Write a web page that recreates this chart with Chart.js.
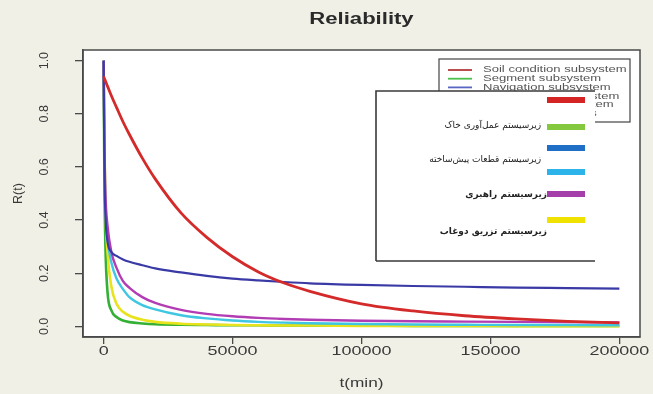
<!DOCTYPE html>
<html>
<head>
<meta charset="utf-8">
<script src="https://cdn.jsdelivr.net/npm/chart.js@4"></script>
<style>
    html, body { margin: 0; padding: 0; background: #f1f0e6; }
    canvas { display: block; }
</style>
</head>
<body>
<canvas id="rel-chart" width="653" height="394"></canvas>
<script>
// Reliability curves R(t)
const times = [0, 300, 700, 1500, 3000, 5000, 7500, 10000, 15000, 20000, 30000, 40000, 50000, 60000, 70000, 80000, 100000, 120000, 140000, 160000, 180000, 200000];

const soilValues = [0.94, 0.933, 0.923, 0.904, 0.868, 0.824, 0.77, 0.722, 0.633, 0.555, 0.427, 0.335, 0.262, 0.205, 0.163, 0.132, 0.085, 0.058, 0.04, 0.028, 0.019, 0.013];
const navigationValues = [1.0, 0.6, 0.42, 0.32, 0.28, 0.265, 0.252, 0.243, 0.23, 0.218, 0.203, 0.19, 0.18, 0.173, 0.167, 0.162, 0.156, 0.152, 0.149, 0.146, 0.144, 0.142];
const purpleValues = [1.0, 0.7, 0.5, 0.38, 0.28, 0.22, 0.17, 0.145, 0.11, 0.088, 0.062, 0.047, 0.038, 0.032, 0.028, 0.025, 0.021, 0.019, 0.018, 0.017, 0.016, 0.015];
const cyanValues = [1.0, 0.65, 0.45, 0.33, 0.24, 0.18, 0.14, 0.11, 0.08, 0.064, 0.042, 0.03, 0.022, 0.017, 0.014, 0.012, 0.009, 0.007, 0.006, 0.005, 0.005, 0.004];
const yellowValues = [1.0, 0.7, 0.45, 0.28, 0.15, 0.085, 0.055, 0.04, 0.025, 0.017, 0.01, 0.007, 0.005, 0.004, 0.003, 0.003, 0.002, 0.002, 0.002, 0.001, 0.001, 0.001];
const segmentValues = [1.0, 0.55, 0.3, 0.13, 0.06, 0.035, 0.022, 0.016, 0.011, 0.008, 0.006, 0.005, 0.004, 0.004, 0.003, 0.003, 0.003, 0.002, 0.002, 0.002, 0.002, 0.002];

const xTicks = [0, 50000, 100000, 150000, 200000];
const yTicks = [0, 0.2, 0.4, 0.6, 0.8, 1.0];
const yTickLabels = ['0.0', '0.2', '0.4', '0.6', '0.8', '1.0'];

const englishLabels = ['Soil condition subsystem', 'Segment subsystem', 'Navigation subsystem', 'Thrust jacks subsystem', 'Cutterhead subsystem', 'Main drive bearings'];
const englishColors = ['#b33a3a', '#4cc04c', '#5866c4', '#3cc8e0', '#b040b0', '#e8e020'];

const persianLabels = ['', 'زیرسیستم عمل\u200cآوری خاک', '', 'زیرسیستم قطعات پیش\u200cساخته', 'زیرسیستم راهبری', 'زیرسیستم تزریق دوغاب'];
const persianColors = ['#d42424', '#84c840', '#1f6fc6', '#2cb4ea', '#a43ea8', '#f0e200'];

const series = [
    { values: soilValues, color: '#d42a2a', width: 2.8 },
    { values: navigationValues, color: '#3a3aa6', width: 2.2 },
    { values: purpleValues, color: '#b23cb4', width: 2.4 },
    { values: cyanValues, color: '#3ec6e2', width: 2.4 },
    { values: yellowValues, color: '#e8e31c', width: 2.6 },
    { values: segmentValues, color: '#34b034', width: 2.6 }
];

const FONT = '"Liberation Sans", Arial, sans-serif';

function stretchText(ctx, text, x, y, font, sx, align, angle) {
    ctx.save();
    ctx.translate(x, y);
    if (angle) ctx.rotate(angle);
    ctx.scale(sx, 1);
    ctx.font = font;
    ctx.textAlign = align || 'center';
    ctx.textBaseline = 'middle';
    ctx.fillText(text, 0, 0);
    ctx.restore();
}

const decorPlugin = {
    id: 'decor',
    beforeDraw(chart) {
        const ctx = chart.ctx;
        const a = chart.chartArea;
        ctx.save();
        ctx.fillStyle = '#f1f0e6';
        ctx.fillRect(0, 0, chart.width, chart.height);
        ctx.fillStyle = '#ffffff';
        ctx.fillRect(a.left, a.top, a.right - a.left, a.bottom - a.top);
        ctx.restore();
    },
    afterDraw(chart) {
        const ctx = chart.ctx;
        const a = chart.chartArea;
        const xs = chart.scales.x;
        const ys = chart.scales.y;

        ctx.save();
        // plot frame
        ctx.strokeStyle = '#4a4a4a';
        ctx.lineWidth = 1.5;
        ctx.strokeRect(a.left, a.top, a.right - a.left, a.bottom - a.top);

        // title and axis texts
        ctx.fillStyle = '#2a2a2a';
        stretchText(ctx, 'Reliability', (a.left + a.right) / 2, 20, 'bold 16px ' + FONT, 1.38);
        ctx.fillStyle = '#3a3a3a';
        xTicks.forEach(v => {
            stretchText(ctx, String(v), xs.getPixelForValue(v), 351, '13px ' + FONT, 1.38);
        });
        stretchText(ctx, 't(min)', (a.left + a.right) / 2, 384, '12.5px ' + FONT, 1.38);
        yTicks.forEach((v, i) => {
            stretchText(ctx, yTickLabels[i], 45, ys.getPixelForValue(v), '12.5px ' + FONT, 1.0, 'center', -Math.PI / 2);
        });
        stretchText(ctx, 'R(t)', 19, (a.top + a.bottom) / 2, '12.5px ' + FONT, 1.0, 'center', -Math.PI / 2);

        // English legend (partly hidden)
        const ex = 439, ey = 59, ew = 191, eh = 63;
        ctx.fillStyle = '#ffffff';
        ctx.fillRect(ex, ey, ew, eh);
        ctx.strokeStyle = '#444';
        ctx.lineWidth = 1.2;
        ctx.strokeRect(ex, ey, ew, eh);
        englishLabels.forEach((lab, i) => {
            const ry = ey + 11 + i * 8.7;
            ctx.strokeStyle = englishColors[i];
            ctx.lineWidth = 1.8;
            ctx.beginPath();
            ctx.moveTo(448, ry);
            ctx.lineTo(472, ry);
            ctx.stroke();
            ctx.fillStyle = '#555';
            stretchText(ctx, lab, 483, ry, '9px ' + FONT, 1.45, 'left');
        });

        // Persian legend box on top
        const px = 376, py = 91, pw = 219, ph = 170;
        ctx.fillStyle = '#ffffff';
        ctx.fillRect(px, py, pw, ph);
        ctx.strokeStyle = '#3a3a3a';
        ctx.lineWidth = 1.6;
        ctx.beginPath();
        ctx.moveTo(px, py + ph);
        ctx.lineTo(px, py);
        ctx.lineTo(px + pw, py);
        ctx.moveTo(px, py + ph);
        ctx.lineTo(px + pw, py + ph);
        ctx.stroke();
        const barY = [100, 127, 148, 172, 194, 220];
        persianColors.forEach((c, i) => {
            ctx.fillStyle = c;
            ctx.fillRect(547, barY[i] - 3, 38, 6);
        });
        const textY = [100, 126, 148, 160, 195, 232];
        const textX = [540, 541, 540, 541, 547, 547];
        ctx.fillStyle = '#222';
        persianLabels.forEach((lab, i) => {
            if (!lab) return;
            ctx.save();
            ctx.direction = 'rtl';
            ctx.font = (i >= 4 ? 'bold ' : '') + '9px "DejaVu Sans", sans-serif';
            ctx.textAlign = 'right';
            ctx.textBaseline = 'middle';
            ctx.fillText(lab, textX[i], textY[i]);
            ctx.restore();
        });
        ctx.restore();
    }
};

function renderReliabilityChart() {
    const ctx = document.getElementById('rel-chart');

    const datasets = series.map(s => ({
        data: times.map((t, i) => ({ x: t, y: s.values[i] })),
        borderColor: s.color,
        borderWidth: s.width,
        pointRadius: 0,
        fill: false,
        cubicInterpolationMode: 'monotone'
    }));

    new Chart(ctx, {
        type: 'line',
        data: { datasets: datasets },
        options: {
            responsive: false,
            animation: false,
            devicePixelRatio: 1,
            layout: { padding: { left: 0, top: 50, right: 13, bottom: 0 } },
            plugins: {
                legend: { display: false },
                title: { display: false },
                tooltip: { enabled: false }
            },
            scales: {
                x: {
                    type: 'linear',
                    min: -8000,
                    max: 208000,
                    afterBuildTicks: s => { s.ticks = xTicks.map(v => ({ value: v })); },
                    afterFit: s => { s.height = 57; },
                    ticks: { display: false },
                    grid: { drawOnChartArea: false, drawTicks: true, tickLength: 7, color: '#4a4a4a', lineWidth: 1.3 },
                    border: { display: true, color: '#4a4a4a', width: 1.5 }
                },
                y: {
                    type: 'linear',
                    min: -0.04,
                    max: 1.04,
                    afterBuildTicks: s => { s.ticks = yTicks.map(v => ({ value: v })); },
                    afterFit: s => { s.width = 83; },
                    ticks: { display: false },
                    grid: { drawOnChartArea: false, drawTicks: true, tickLength: 8, color: '#4a4a4a', lineWidth: 1.3 },
                    border: { display: true, color: '#4a4a4a', width: 1.5 }
                }
            }
        },
        plugins: [decorPlugin]
    });
}

renderReliabilityChart();
</script>
</body>
</html>
